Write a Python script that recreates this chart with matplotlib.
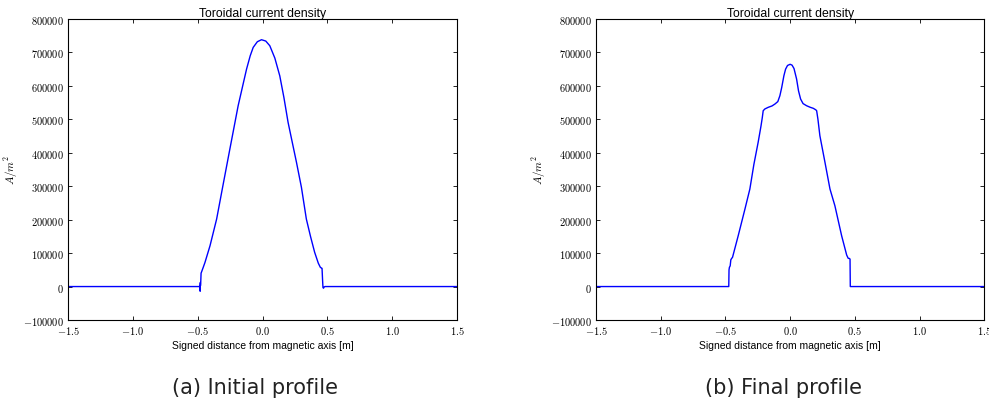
import matplotlib
matplotlib.use("Agg")
import matplotlib.pyplot as plt
from matplotlib.ticker import FuncFormatter, MultipleLocator

# Initial profile
x_init = [-1.5, -0.482, -0.481, -0.480, -0.479, -0.477, -0.474, -0.469, -0.455,
          -0.444, -0.405, -0.354, -0.308, -0.252, -0.188, -0.150, -0.123, -0.095,
          -0.072, -0.040, -0.008, 0.025, 0.056, 0.095, 0.133, 0.165, 0.197, 0.230,
          0.262, 0.300, 0.338, 0.370, 0.402, 0.430, 0.446, 0.456, 0.459, 0.463,
          0.466, 0.470, 0.476, 0.482, 1.5]
j_init = [0, 0, -14000, 12000, 2000, 8000, 40000, 45000, 60000,
          72000, 122000, 201800, 296600, 411000, 540700, 605000, 650400, 690000,
          715000, 732000, 738000, 734000, 720000, 683000, 630000, 565000, 491000, 430000,
          371000, 296600, 201800, 150000, 102300, 70000, 57400, 55000, 54400, 20000,
          -2400, -5000, -1000, 0, 0]

# Final profile
x_final = [-1.5, -0.474, -0.472, -0.469, -0.463, -0.458, -0.452, -0.445, -0.401,
           -0.349, -0.311, -0.280, -0.247, -0.225, -0.215, -0.208, -0.195, -0.169,
           -0.140, -0.117, -0.095, -0.079, -0.065, -0.048, -0.035, -0.020, 0.0,
           0.015, 0.030, 0.050, 0.065, 0.081, 0.100, 0.127, 0.155, 0.179, 0.198,
           0.205, 0.215, 0.230, 0.270, 0.308, 0.346, 0.398, 0.437, 0.449, 0.458,
           0.463, 0.465, 1.5]
j_final = [0, 0, 50000, 57400, 62000, 80000, 84000, 87300, 152000,
           231700, 291600, 365000, 431200, 480000, 505000, 525700, 531000, 535900,
           540000, 545800, 553000, 570600, 595000, 630400, 650000, 661000, 664500,
           662000, 652000, 620500, 585000, 560700, 547000, 540700, 536000, 532900, 528500,
           525700, 500000, 451000, 370000, 291600, 241600, 152000, 94200, 84300, 84000,
           82000, 0, 0]

titles = ["Toroidal current density", "Toroidal current density"]
captions = ["(a) Initial profile", "(b) Final profile"]

plt.rcParams["mathtext.fontset"] = "cm"
plt.rcParams["font.family"] = ["Liberation Sans", "DejaVu Sans"]

fig = plt.figure(figsize=(9.89, 4.02), dpi=100)
ax_a = fig.add_axes([0.0688, 0.2015, 0.3933, 0.7488])
ax_b = fig.add_axes([0.6026, 0.2015, 0.3926, 0.7488])

xfmt = FuncFormatter(lambda v, _: r"$%.1f$" % v if abs(v) > 1e-9 else r"$0.0$")
yfmt = FuncFormatter(lambda v, _: r"$%d$" % round(v))

for ax, x, j, title in [(ax_a, x_init, j_init, titles[0]), (ax_b, x_final, j_final, titles[1])]:
    ax.plot(x, j, color="blue", lw=1.0)
    ax.set_xlim(-1.5, 1.5)
    ax.set_ylim(-100000, 800000)
    ax.xaxis.set_major_locator(MultipleLocator(0.5))
    ax.yaxis.set_major_locator(MultipleLocator(100000))
    ax.xaxis.set_major_formatter(xfmt)
    ax.yaxis.set_major_formatter(yfmt)
    ax.tick_params(direction="in", top=True, right=True, length=3, width=0.6,
                   labelsize=7.5, pad=3)
    for sp in ax.spines.values():
        sp.set_linewidth(0.8)
    ax.set_title(title, fontsize=8.8, pad=2)
    ax.set_xlabel("Signed distance from magnetic axis [m]", fontsize=7.5, labelpad=3)
    ax.set_ylabel(r"$A/m^2$", fontsize=8, labelpad=2)

# sub-figure captions under each panel
fig.text(0.258, 0.035, captions[0], ha="center", va="center", fontsize=15,
         family=["DejaVu Sans"], color="#222222")
fig.text(0.792, 0.035, captions[1], ha="center", va="center", fontsize=15,
         family=["DejaVu Sans"], color="#222222")

fig.savefig("out.png", dpi=100)
